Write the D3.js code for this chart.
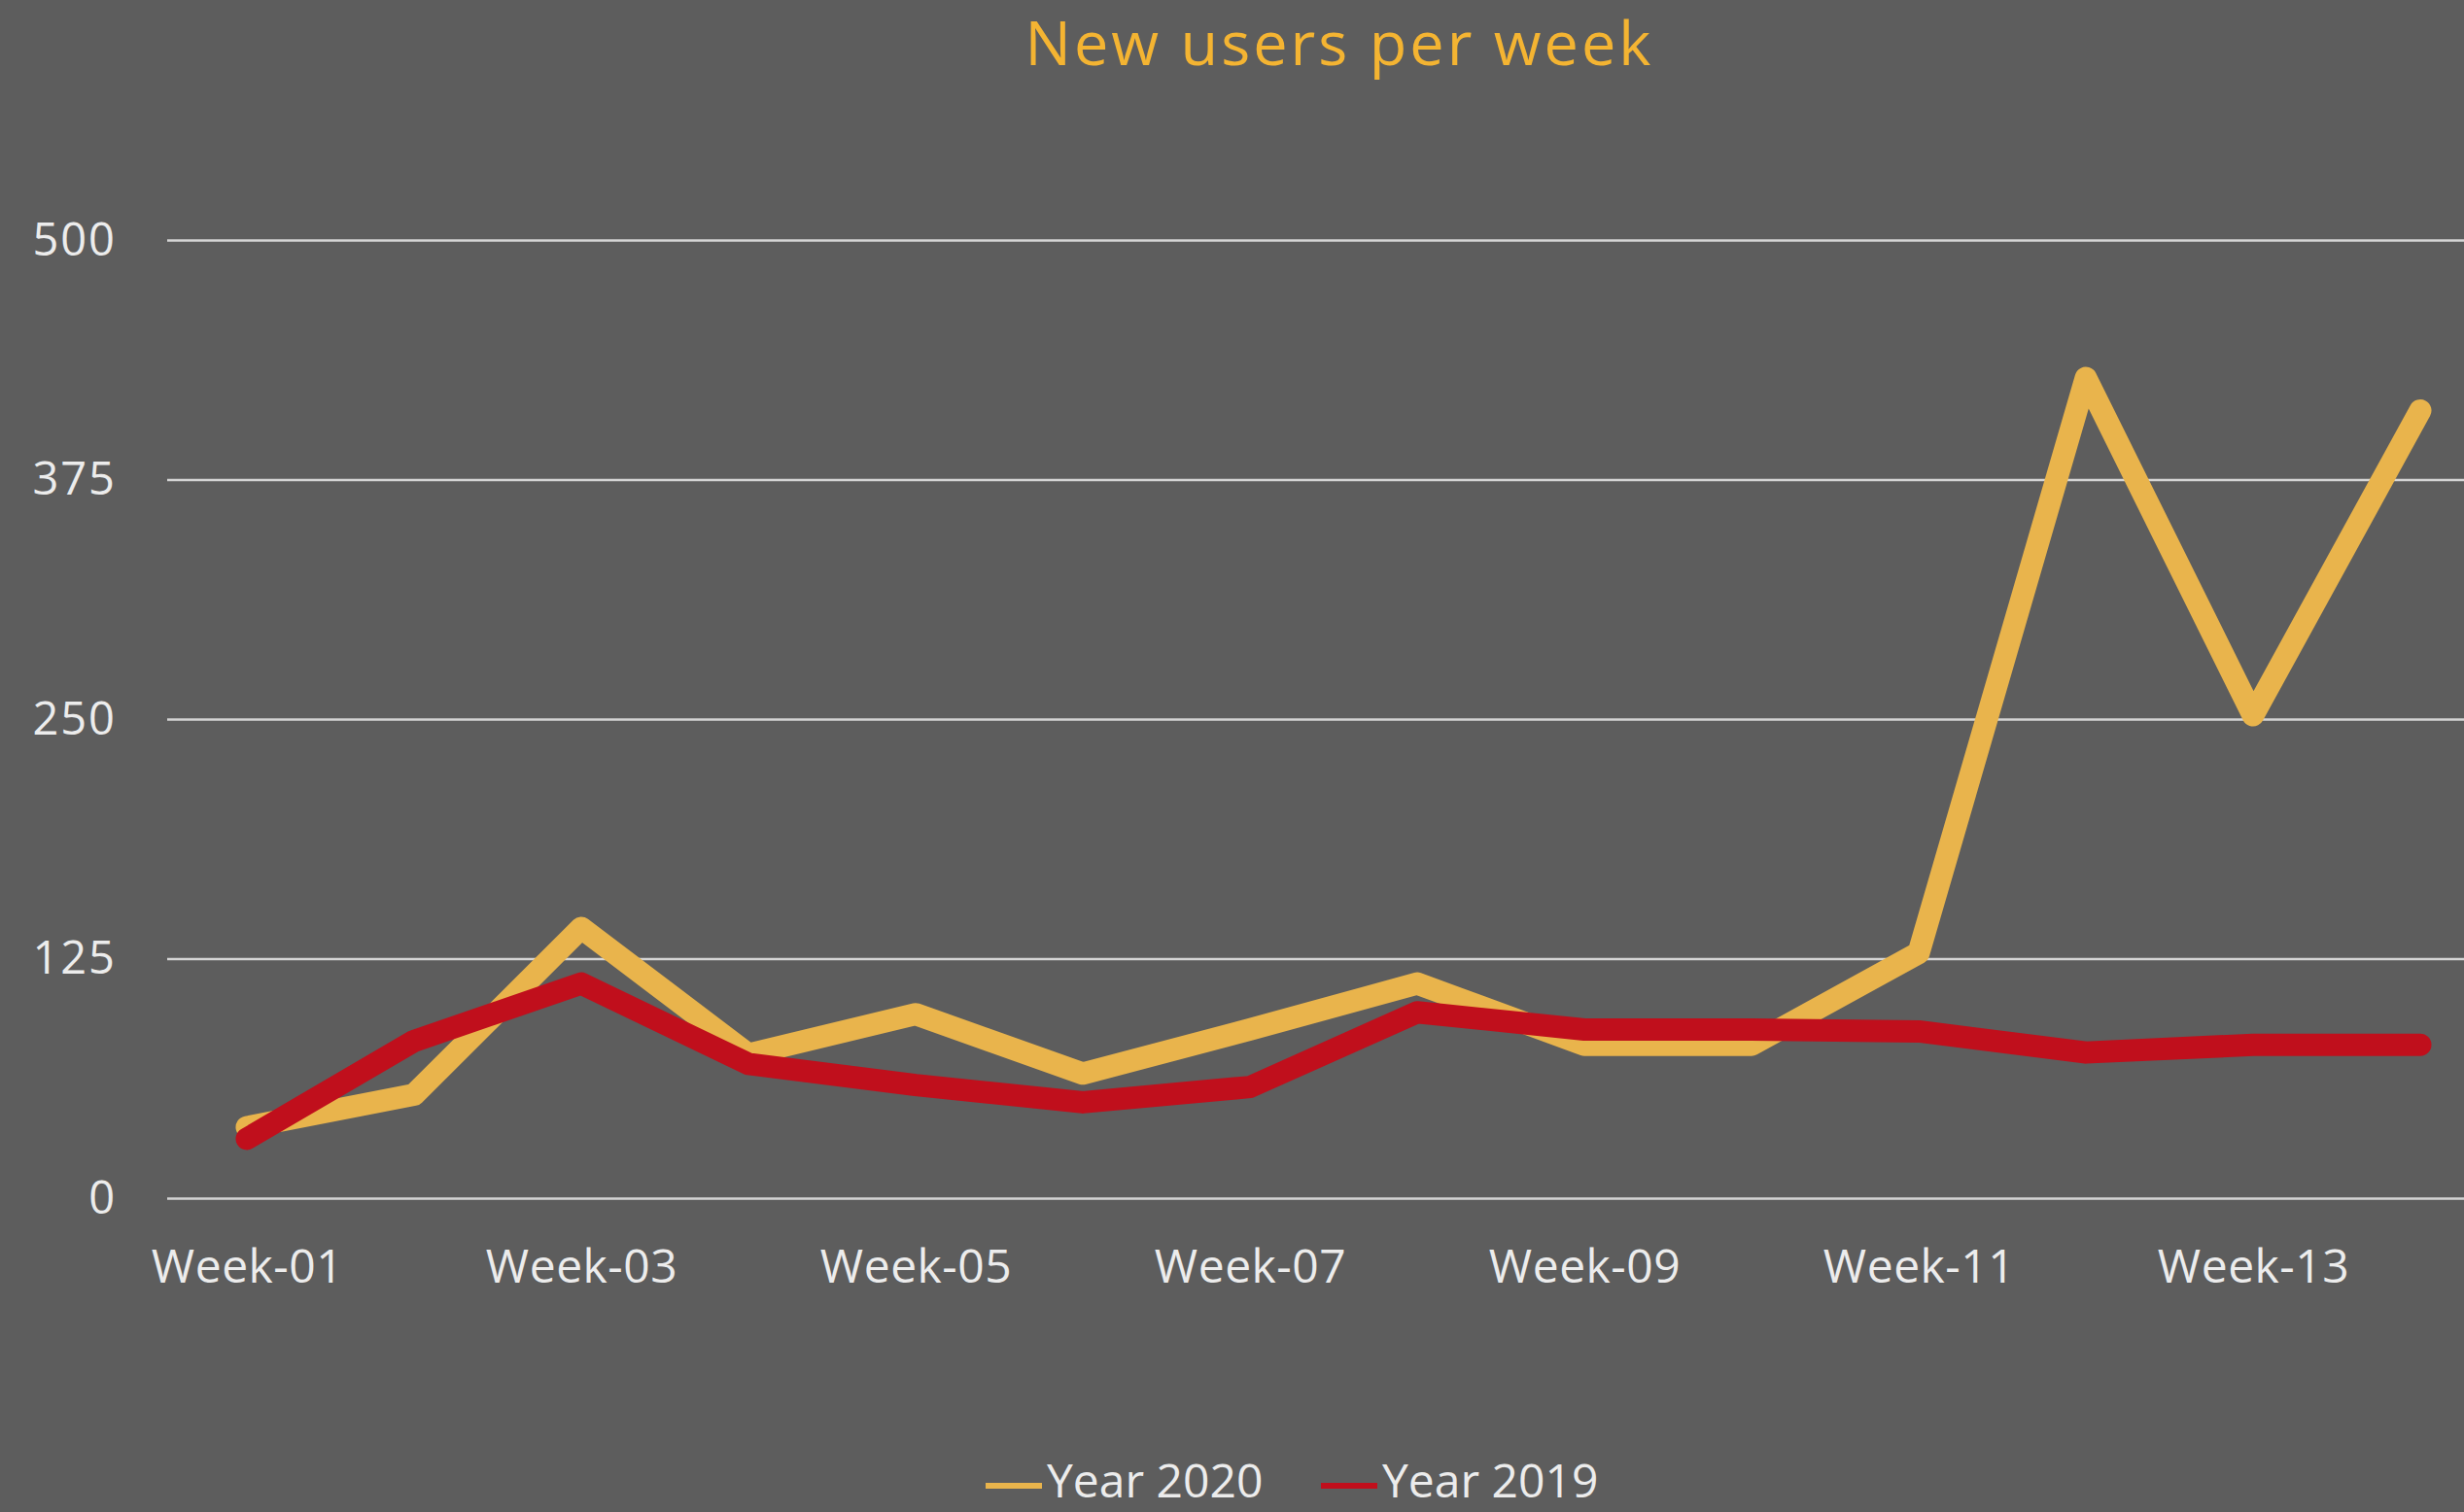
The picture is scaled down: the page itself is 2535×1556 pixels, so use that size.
<!DOCTYPE html>
<html>
<head>
<meta charset="utf-8">
<script src="https://cdn.jsdelivr.net/npm/d3@7"></script>
<style>
  body { margin: 0; background: #5d5d5d; overflow: hidden; }
  text { font-family: "Open Sans", sans-serif; }
</style>
</head>
<body>
<div class="box"></div>
<script>
// chart data
const weeks = ["Week-01", "Week-02", "Week-03", "Week-04", "Week-05", "Week-06", "Week-07",
               "Week-08", "Week-09", "Week-10", "Week-11", "Week-12", "Week-13", "Week-14"];
const users2020 = [37, 54, 141, 75, 96, 65, 88, 112, 80, 80, 128, 428, 252, 411];
const users2019 = [31, 82, 112, 70, 59, 50, 58, 97, 88, 88, 87, 76, 80, 80];
const yTicks = [0, 125, 250, 375, 500];
const seriesNames = ["Year 2020", "Year 2019"];

// Vars for the svg "box"
const w = 2535;
const h = 1556;

const svg = d3.select(".box")
                .append("svg")
                .attr("width", w)
                .attr("height", h)
                .style("background", "#5d5d5d");

// plot area runs a bit past the right edge, like the original
const xScale = d3.scalePoint()
                .domain(weeks)
                .range([168, 2576])
                .padding(0.5);

const yScale = d3.scaleLinear()
                .domain([0, 500])
                .range([1233, 247]);

// GRID LINES + Y LABELS
const yAxis = d3.axisLeft(yScale)
                .tickValues(yTicks)
                .tickSize(-(w - 172))
                .tickPadding(52)
                .tickFormat(d3.format("d"));

const gy = svg.append("g")
    .attr("transform", "translate(172,0)")
    .call(yAxis);
gy.select(".domain").remove();
gy.selectAll(".tick line")
    .attr("stroke", "#d4d4d4")
    .attr("stroke-width", 2.5);
gy.selectAll(".tick text")
    .attr("fill", "#ececec")
    .style("font-size", "47px")
    .style("letter-spacing", "2px")
    .attr("dy", "0.32em");

// X LABELS (every second week)
const xAxis = d3.axisBottom(xScale)
                .tickValues(weeks.filter((d, i) => i % 2 == 0))
                .tickSize(0)
                .tickPadding(0);

const gx = svg.append("g")
    .attr("transform", "translate(0,1233)")
    .call(xAxis);
gx.select(".domain").remove();
gx.selectAll(".tick text")
    .attr("fill", "#ececec")
    .attr("y", 87)
    .attr("dy", 0)
    .style("font-size", "48px")
    .style("letter-spacing", "0.5px");

// LINES
const color = d3.scaleOrdinal()
                .domain(seriesNames)
                .range(["#e9b44c", "#c00f1c"]);

const line = d3.line()
                .x((d, i) => xScale(weeks[i]))
                .y(d => yScale(d));

[users2020, users2019].forEach(function(values, k){
    svg.append("path")
        .datum(values)
        .attr("d", line)
        .attr("fill", "none")
        .attr("stroke", color(seriesNames[k]))
        .attr("stroke-width", 23)
        .attr("stroke-linejoin", "round")
        .attr("stroke-linecap", "round");
});

// TITLE
svg.append("text")
    .attr("x", 1378)
    .attr("y", 67)
    .attr("text-anchor", "middle")
    .attr("fill", "#f4b432")
    .style("font-size", "63px")
    .style("letter-spacing", "3px")
    .text("New users per week");

// LEGEND
const legendX = [1014, 1359];
const legend = svg.append("g").attr("id", "legend");

legend.selectAll("line")
    .data(seriesNames)
    .enter()
    .append("line")
    .attr("x1", (d, i) => legendX[i])
    .attr("x2", (d, i) => legendX[i] + 58)
    .attr("y1", 1529)
    .attr("y2", 1529)
    .attr("stroke", d => color(d))
    .attr("stroke-width", 6);

legend.selectAll("text")
    .data(seriesNames)
    .enter()
    .append("text")
    .attr("x", (d, i) => legendX[i] + 63)
    .attr("y", 1541)
    .attr("fill", "#ececec")
    .style("font-size", "48px")
    .text(d => d);
</script>
</body>
</html>
